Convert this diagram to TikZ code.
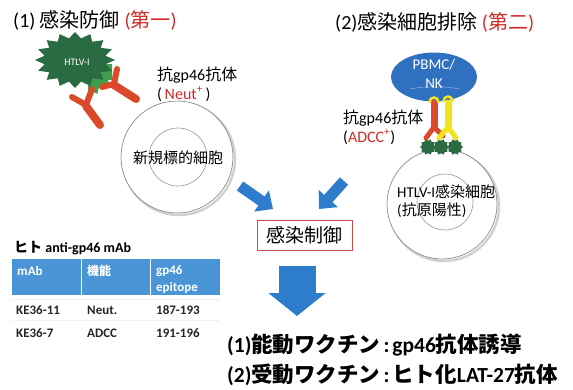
\documentclass[tikz,border=0pt]{standalone}
\usepackage{fontspec}
\setmainfont{Noto Sans CJK JP}
\newfontfamily\lat{Carlito}
\usetikzlibrary{arrows.meta,shapes.geometric}

\definecolor{redtxt}{HTML}{D22B27}
\definecolor{virusdark}{HTML}{2A6B42}
\definecolor{viruslight}{HTML}{3F9E4C}
\definecolor{abred}{HTML}{DA4A2A}
\definecolor{abyellow}{HTML}{F2E31C}
\definecolor{pbmcblue}{HTML}{2F70C0}
\definecolor{arrowblue}{HTML}{2D7DCC}
\definecolor{theadblue}{HTML}{4A95D6}
\definecolor{boxred}{HTML}{C9504A}
\definecolor{cellline}{HTML}{8A8A8A}
\definecolor{tabtxt}{HTML}{262626}

% closed spiky outline: #1 points, outer and inner radius
\newcommand{\spikepath}[3]{(0:#2) \foreach \i in {1,...,#1}{ -- ({(\i-0.5)*360/#1}:#3) -- ({\i*360/#1}:#2)} -- cycle}
\newcommand{\colsep}{\hspace{0.14em}{\lat :}\hspace{0.14em}}

\begin{document}
\begin{tikzpicture}[x=1pt,y=-1pt,
  fs/.style={font=\fontsize{#1}{#1}\selectfont},
  txt/.style={inner sep=0pt, anchor=west},
  cellout/.style={circle, draw=cellline, line width=0.7pt, fill=white, inner sep=0pt},
  cellshadow/.style={circle, draw=black!18, line width=2.5pt, inner sep=0pt},
  cellin/.style={circle, draw=cellline!90, line width=0.6pt, inner sep=0pt},
  ab/.style={draw=abred, line cap=round, line join=round},
  aby/.style={draw=abyellow, line cap=round, line join=round},
  blockarrow/.style={draw=arrowblue, line width=11pt, -{Triangle[width=25pt,length=14pt]}},
  headtxt/.style={txt, font=\lat\bfseries\fontsize{13}{13}\selectfont, text=white},
  celltxt/.style={txt, font=\lat\bfseries\fontsize{13}{13}\selectfont, text=tabtxt},
]
\useasboundingbox (0,0) rectangle (573,389);

% ---------- headings ----------
\node[txt, fs=20] (title1) at (13,20) {{\lat (1) }感染防御{\lat\ }\textcolor{redtxt}{{\lat (}第一{\lat )}}};
\node[txt, fs=20] (title2) at (335,22) {{\lat (2)}感染細胞排除{\lat\ }\textcolor{redtxt}{{\lat (}第二{\lat )}}};

% ---------- virus ----------
\begin{scope}
  \clip (88,64) rectangle (112,94);
  \fill[viruslight, shift={(82,68)}] \spikepath{16}{40 and 28}{31 and 22};
\end{scope}
\fill[virusdark, shift={(75,60)}] \spikepath{16}{40 and 28}{31 and 22};
\node[font=\lat\fontsize{10}{10}\selectfont, text=white, inner sep=0pt] (virus) at (77,62) {HTLV-I};

% ---------- neutralising antibodies ----------
\draw[ab, line width=6pt] (72,97) -- (86,105);
\draw[ab, line width=6pt] (92,89) -- (86,105);
\draw[ab, line width=8pt] (86,106) -- (100,125);
\draw[ab, line width=6pt] (102,87) -- (114,84);
\draw[ab, line width=6pt] (117,69) -- (114,84);
\draw[ab, line width=8pt] (114,85) -- (136,99);

\node[txt, fs=16] (ab1lbl) at (157,75) {抗{\lat gp46}抗体};
\node[txt, fs=16] (ab1sub) at (157,94) {{\lat (\,}\textcolor{redtxt}{\lat Neut\textsuperscript{+}}{\lat\,)}};

% ---------- new target cell ----------
\node[cellshadow, minimum size=112pt] (cell1sh) at (179,159) {};
\node[cellout, minimum size=112pt] (cell1) at (177,157) {};
\node[cellin, minimum size=58pt] (cell1in) at (178,157) {};
\node[fs=15, inner sep=0pt] (cell1txt) at (178,158) {新規標的細胞};

% ---------- infected cell ----------
\node[cellshadow, minimum size=110pt] (cell2sh) at (444,206) {};
\node[cellout, minimum size=110pt] (cell2) at (442,204) {};
\node[cellin, minimum size=56pt] (cell2in) at (445,202) {};
\node[txt, fs=15] (cell2txt) at (397,192) {{\lat HTLV-I}感染細胞};
\node[txt, fs=15] (cell2sub) at (397,210) {{\lat (}抗原陽性{\lat )}};

% ---------- effector cell ----------
\node[ellipse, fill=pbmcblue, minimum width=86pt, minimum height=49pt, inner sep=0pt] (pbmc) at (434,77) {};
\draw[pbmcblue!55!white, line width=0.5pt] (410,89) .. controls (425,86) and (445,86) .. (460,89);
\node[font=\lat\fontsize{15}{15}\selectfont, text=white, inner sep=0pt] (pbmctxt) at (434,65) {PBMC/};
\node[font=\lat\fontsize{15}{15}\selectfont, text=white, inner sep=0pt] (nktxt) at (434,84) {NK};

% antigen spikes on the infected cell
\fill[virusdark, shift={(428,147)}] \spikepath{10}{8}{6.3};
\fill[virusdark, shift={(441,147)}] \spikepath{10}{8}{6.3};
\fill[virusdark, shift={(455,147)}] \spikepath{10}{8}{6.3};

% ADCC antibodies bridging the two cells
\draw[ab, line width=5pt] (434,127) -- (443,136);
\draw[ab, line width=7pt] (434,103) -- (434,126);
\draw[ab, line width=5pt] (434,127) -- (426,138);
\draw[aby, line width=7pt] (448,103) -- (448,126);
\draw[aby, line width=5pt] (448,127) -- (439,138);
\draw[aby, line width=5pt] (448,127) -- (456,138);
\draw[abyellow, line width=2.5pt, line cap=round] (429.5,102) arc (180:360:4.5);
\draw[abyellow, line width=2.5pt, line cap=round] (443.5,101) arc (180:360:4.5);

\node[txt, fs=16] (ab2lbl) at (343,118) {抗{\lat gp46}抗体};
\node[txt, fs=16] (ab2sub) at (343,137) {{\lat (}\textcolor{redtxt}{\lat ADCC\textsuperscript{+}}{\lat )}};

% ---------- convergence ----------
\node[draw=boxred, line width=0.8pt, minimum width=95pt, minimum height=30pt, inner sep=0pt, fs=19] (ctrl) at (304.5,235) {感染制御};
\coordinate (a1s) at (240,186);
\coordinate (a1e) at (273,209);
\coordinate (a2s) at (344,181);
\coordinate (a2e) at (319,209);
\draw[blockarrow] (a1s) -- (a1e);
\draw[blockarrow] (a2s) -- (a2e);

\coordinate (a3s) at (297,266);
\coordinate (a3e) at (297,316);
\draw[draw=arrowblue, line width=37pt, -{Triangle[width=56pt,length=23pt]}] (a3s) -- (a3e);

\node[txt, font=\bfseries\fontsize{21.5}{21.5}\selectfont] (vac1) at (227,345) {{\lat (1)}能動ワクチン\colsep{\lat gp46}抗体誘導};
\node[txt, font=\bfseries\fontsize{21.5}{21.5}\selectfont] (vac2) at (227,375) {{\lat (2)}受動ワクチン\colsep ヒト化{\lat LAT-27}抗体};

% ---------- antibody table ----------
\node[txt, font=\bfseries\fontsize{14}{14}\selectfont] (tabtitle) at (14,248) {ヒト{\lat\ anti-gp46 mAb}};
\fill[theadblue] (12,259) rectangle (220,295);
\draw[white, line width=1pt] (81,259) -- (81,295);
\draw[white, line width=1pt] (150,259) -- (150,295);
\draw[theadblue!25, line width=1pt, dash pattern=on 1pt off 1pt] (12,299) -- (220,299);
\draw[theadblue!20, line width=1pt, dash pattern=on 1pt off 1pt] (12,320) -- (220,320);

\node[headtxt] (h1) at (17,271) {mAb};
\node[txt, font=\bfseries\fontsize{12}{12}\selectfont, text=white] (h2) at (87,271) {機能};
\node[headtxt] (h3) at (156,271) {gp46};
\node[headtxt] (h3b) at (156,288) {epitope};

\node[celltxt] (r1c1) at (16,310) {KE36-11};
\node[celltxt] (r1c2) at (87,310) {Neut.};
\node[celltxt] (r1c3) at (156,310) {187-193};
\node[celltxt] (r2c1) at (16,333) {KE36-7};
\node[celltxt] (r2c2) at (87,333) {ADCC};
\node[celltxt] (r2c3) at (156,333) {191-196};
\end{tikzpicture}
\end{document}
